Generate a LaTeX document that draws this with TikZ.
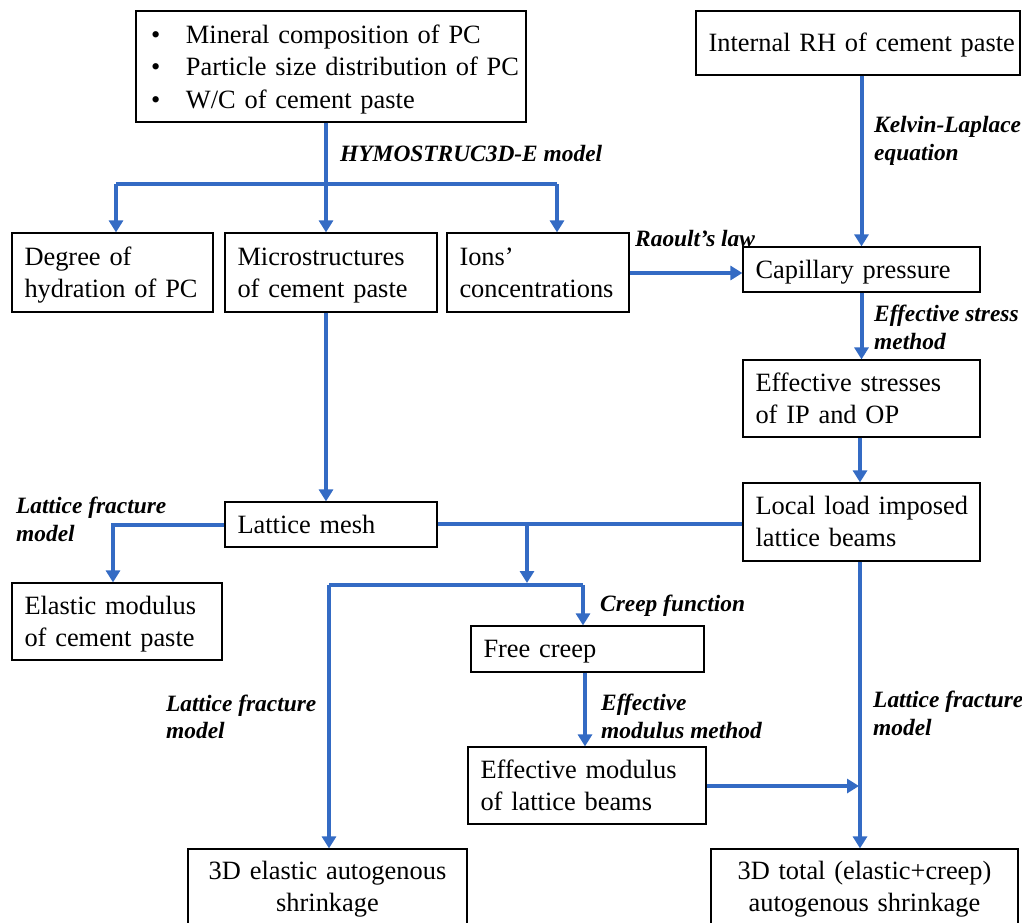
\documentclass[tikz,border=0pt]{standalone}
\usepackage{fontspec}
\setmainfont{Liberation Serif}
\usetikzlibrary{arrows.meta,calc}
\definecolor{flowblue}{RGB}{52,107,196}
\newcommand\lines[1]{\raisebox{-2.5pt}[\height][\depth]{\begin{tabular}{@{}l@{}}#1\end{tabular}}}
\begin{document}
\begin{tikzpicture}[x=1pt,y=-1pt,
  box/.style={draw=black, line width=1.2pt, rectangle, inner ysep=0pt,
    font=\fontsize{26.4}{32}\selectfont, anchor=center},
  lbox/.style={box, align=left, inner xsep=12.5pt},
  cbox/.style={box, align=center, inner xsep=4pt},
  conn/.style={draw=flowblue, line width=4pt},
  arr/.style={conn, -{Triangle[width=14pt,length=12pt]}},
  lab/.style={font=\fontsize{23.4}{27.5}\selectfont\bfseries\itshape, align=left, anchor=west, inner sep=0pt}]
\clip (0,0) rectangle (1022,922);
\useasboundingbox (0,0) rectangle (1022,922);

% boxes
\node[lbox, minimum width=390pt, minimum height=111pt, text width=360pt, inner xsep=15pt, font=\fontsize{26.4}{32.5}\selectfont] (inp) at (331,66.5)
  {\lines{\makebox[35pt][l]{\textbullet}Mineral composition of PC\\
   \makebox[35pt][l]{\textbullet}Particle size distribution of PC\\
   \makebox[35pt][l]{\textbullet}W/C of cement paste}};
\node[lbox, minimum width=324pt, minimum height=64pt, text width=299pt] (rh) at (858,43) {\lines{Internal RH of cement paste}};
\node[lbox, minimum width=201pt, minimum height=79pt, text width=176pt] (deg) at (112.5,272.5) {\lines{Degree of\\hydration of PC}};
\node[lbox, minimum width=212pt, minimum height=79pt, text width=187pt] (mic) at (331,272.5) {\lines{Microstructures\\of cement paste}};
\node[lbox, minimum width=182pt, minimum height=79pt, text width=157pt] (ion) at (538,272.5) {\lines{Ions’\\concentrations}};
\node[lbox, minimum width=237pt, minimum height=45pt, text width=212pt] (cap) at (861.5,269.5) {\lines{Capillary pressure}};
\node[lbox, minimum width=237pt, minimum height=77pt, text width=212pt] (eff) at (861.5,398.5) {\lines{Effective stresses\\of IP and OP}};
\node[lbox, minimum width=237pt, minimum height=78pt, text width=212pt] (loc) at (861.5,522) {\lines{Local load imposed\\lattice beams}};
\node[lbox, minimum width=212pt, minimum height=45pt, text width=187pt] (lat) at (331,524.5) {\lines{Lattice mesh}};
\node[lbox, minimum width=210pt, minimum height=77pt, text width=185pt] (ela) at (117,621.5) {\lines{Elastic modulus\\of cement paste}};
\node[lbox, minimum width=233pt, minimum height=46pt, text width=208pt] (fre) at (587.5,649) {\lines{Free creep}};
\node[lbox, minimum width=238pt, minimum height=77pt, text width=213pt] (efm) at (587,785.5) {\lines{Effective modulus\\of lattice beams}};
\node[cbox, minimum width=279pt, minimum height=80pt, text width=271pt] (el3) at (327.5,889) {3D elastic autogenous\\shrinkage};
\node[cbox, minimum width=307pt, minimum height=80pt, text width=299pt] (tot) at (864.5,889) {3D total (elastic+creep)\\autogenous shrinkage};

% junction coordinates
\coordinate (j1) at (326,184);
\coordinate (jl) at (116,184);
\coordinate (jr) at (557,184);
\coordinate (jm) at (527,524);
\coordinate (jf) at (329,585);
\coordinate (jg) at (583,585);
\coordinate (jv) at (860,786);
\coordinate (jk) at (113,525);

% connectors
\draw[conn] (inp.south -| j1) -- (j1);
\draw[conn] (jl) -- (jr);
\draw[arr] (j1) -- (mic.north -| j1);
\draw[arr] (jl) -- (deg.north -| jl);
\draw[arr] (jr) -- (ion.north -| jr);
\draw[arr] (rh.south -| cap.north) -- (cap.north);
\draw[arr] (ion.east |- 0,273) -- (cap.west |- 0,273);
\draw[arr] (cap.south) -- (eff.north);
\draw[arr] (eff.south -| 860,0) -- (loc.north -| 860,0);
\draw[arr] (mic.south -| j1) -- (lat.north -| j1);
\draw[conn] (loc.west |- jm) -- (lat.east |- jm);
\draw[arr] (lat.west |- jk) -- (jk) -- (ela.north -| jk);
\draw[arr] (jm) -- ($(jm)+(0,59)$);
\draw[conn] (jf) -- (jg);
\draw[arr] (jg) -- (fre.north -| jg);
\draw[arr] (jf) -- (el3.north -| jf);
\draw[arr] (fre.south -| 585,0) -- (efm.north -| 585,0);
\draw[arr] (efm.east |- jv) -- ($(jv)+(-1,0)$);
\draw[arr] (loc.south -| jv) -- (tot.north -| jv);

% labels
\node[lab] (l1) at (340,153) {HYMOSTRUC3D-E model};
\node[lab] (l2) at (874,141) {Kelvin-Laplace\\equation};
\node[lab] (l3) at (635,239) {Raoult’s law};
\node[lab] (l4) at (874,327.5) {Effective stress\\method};
\node[lab] (l5) at (16,519.5) {Lattice fracture\\model};
\node[lab] (l6) at (600,606) {Creep function};
\node[lab] (l7) at (166,717) {Lattice fracture\\model};
\node[lab] (l8) at (601,716.5) {Effective\\modulus method};
\node[lab] (l9) at (873,713.5) {Lattice fracture\\model};
\end{tikzpicture}
\end{document}
